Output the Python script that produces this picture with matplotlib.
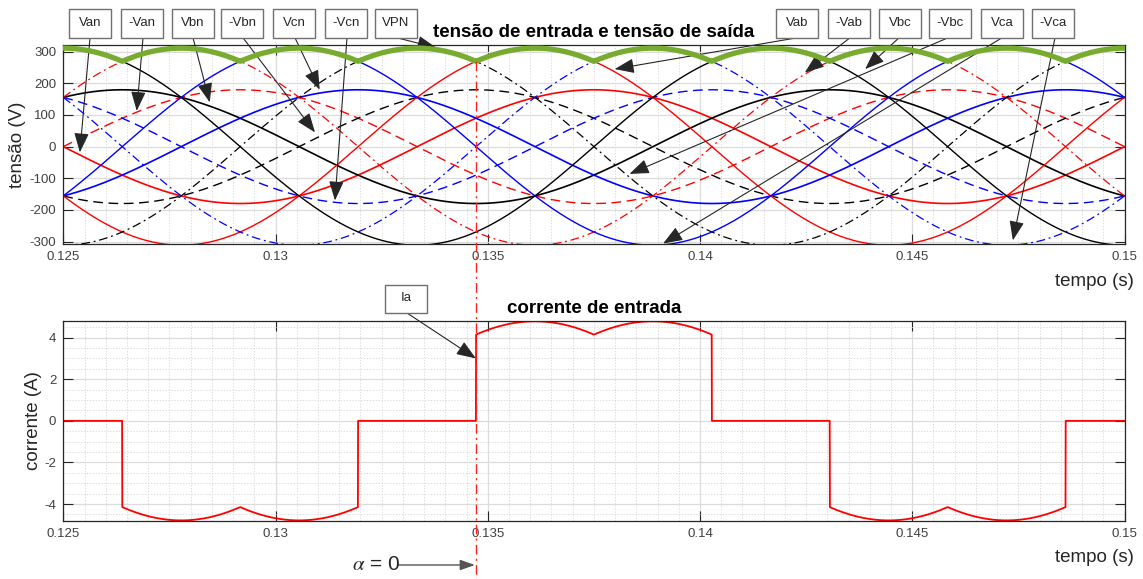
import numpy as np
import matplotlib
matplotlib.use("Agg")
import matplotlib.pyplot as plt
from matplotlib.patches import Rectangle, FancyArrowPatch
from matplotlib.lines import Line2D
from matplotlib.ticker import MultipleLocator

plt.rcParams['font.family'] = ['Liberation Sans', 'DejaVu Sans']
plt.rcParams['axes.unicode_minus'] = False
plt.rcParams['mathtext.fontset'] = 'stix'

# --- dados ---
f_rede = 60.0              # Hz
v_fase_pico = 179.6        # V (pico fase-neutro)
r_carga = 65.0             # ohm
fase_graus = [0.0, -120.0, 120.0]   # a, b, c
alpha_t = 0.13472          # instante de alpha = 0 (s)
t_ini, t_fim = 0.125, 0.15

xticks = [0.125, 0.13, 0.135, 0.14, 0.145, 0.15]
xtick_labels = ['0.125', '0.13', '0.135', '0.14', '0.145', '0.15']
yticks_v = [-300, -200, -100, 0, 100, 200, 300]
yticks_i = [-4, -2, 0, 2, 4]

# rotulos e pontas das setas (t, V)
rotulos = ['Van', '-Van', 'Vbn', '-Vbn', 'Vcn', '-Vcn', 'VPN',
           'Vab', '-Vab', 'Vbc', '-Vbc', 'Vca', '-Vca']
alvo_t = [0.12539, 0.12673, 0.12845, 0.13093, 0.13104, 0.1314, 0.13379,
          0.13799, 0.14247, 0.14389, 0.13834, 0.13913, 0.14737]
alvo_v = [-18, 113, 140, 45, 180, -170, 312,
          245, 234, 245, -86, -306, -296]
ia_alvo = (0.13472, 3.0)

# --- formas de onda ---
t = np.linspace(t_ini, t_fim, 5001)
w = 2 * np.pi * f_rede
va, vb, vc = [v_fase_pico * np.sin(w * t + np.deg2rad(p)) for p in fase_graus]
vab, vbc, vca = va - vb, vb - vc, vc - va
vmax = np.maximum(np.maximum(va, vb), vc)
vmin = np.minimum(np.minimum(va, vb), vc)
vpn = vmax - vmin
ia = np.where(va >= vmax, vpn / r_carga, np.where(va <= vmin, -vpn / r_carga, 0.0))

# estilos
R, B, K = '#ff0000', '#0000ff', '#000000'
dash = (0, (7, 4))
dashdot = (0, (7, 3, 1.5, 3))
curvas = [
    (va, R, '-', 1.2), (-va, R, dash, 1.0),
    (vb, K, '-', 1.2), (-vb, K, dash, 1.0),
    (vc, B, '-', 1.2), (-vc, B, dash, 1.0),
    (vab, R, '-', 1.0), (-vab, R, dashdot, 0.9),
    (vbc, K, '-', 1.0), (-vbc, K, dashdot, 0.9),
    (vca, B, '-', 1.0), (-vca, B, dashdot, 0.9),
]

W, H = 1143, 579
fig = plt.figure(figsize=(W / 100, H / 100), dpi=100)
ax1 = fig.add_axes([63.3 / W, (H - 244.5) / H, (1124.5 - 63.3) / W, 199.5 / H])
ax2 = fig.add_axes([63.3 / W, (H - 520.7) / H, (1124.5 - 63.3) / W, 199.7 / H])

for y, c, ls, lw in curvas:
    ax1.plot(t, y, color=c, ls=ls, lw=lw)
ax1.plot(t, vpn, color='#77ac30', lw=3.8, zorder=5)
ax2.plot(t, ia, color=R, lw=1.3)

for ax in (ax1, ax2):
    ax.set_xlim(t_ini, t_fim)
    ax.set_xticks(xticks)
    ax.set_xticklabels(xtick_labels)
    ax.xaxis.set_minor_locator(MultipleLocator(0.0005))
    ax.tick_params(which='major', direction='in', length=7, width=0.8,
                   top=True, right=True, color='#262626', labelcolor='#404040',
                   labelsize=9.5, pad=5)
    ax.tick_params(which='minor', length=0)
    ax.grid(which='major', color='#dcdcdc', lw=0.9, ls='-')
    ax.xaxis.grid(True, which='minor', color='#d4d4d4', lw=0.6, ls=(0, (1.5, 2)))
    ax.set_axisbelow(True)
    for s in ax.spines.values():
        s.set_color('#262626')
        s.set_linewidth(0.9)

ax1.set_ylim(-309, 321)
ax1.set_yticks(yticks_v)
ax2.set_ylim(-4.8, 4.8)
ax2.set_yticks(yticks_i)
ax2.yaxis.set_minor_locator(MultipleLocator(0.5))
ax2.yaxis.grid(True, which='minor', color='#d4d4d4', lw=0.6, ls=(0, (1.5, 2)))

ax1.set_title('tensão de entrada e tensão de saída', fontsize=13.5,
              fontweight='bold', pad=6)
ax2.set_title('corrente de entrada', fontsize=13.5, fontweight='bold', pad=6)

fig.text(17 / W, 1 - 145 / H, 'tensão (V)', rotation=90, fontsize=13.5,
         ha='center', va='center', color='#262626')
fig.text(34 / W, 1 - 421 / H, 'corrente (A)', rotation=90, fontsize=13.5,
         ha='center', va='center', color='#262626')
fig.text(1134 / W, 1 - 281 / H, 'tempo (s)', fontsize=13.5, ha='right',
         va='center', color='#262626')
fig.text(1134 / W, 1 - 557 / H, 'tempo (s)', fontsize=13.5, ha='right',
         va='center', color='#262626')


def caixa(cx, top, txt, w=42, h=28.5):
    fig.add_artist(Rectangle(((cx - w / 2) / W, 1 - (top + h) / H), w / W, h / H,
                             transform=fig.transFigure, facecolor='white',
                             edgecolor='#707070', lw=1.0))
    fig.text(cx / W, 1 - (top + h / 2 - 1) / H, txt, fontsize=9.5, ha='center',
             va='center', color='#262626')


def seta(ax, xy, start_px, cor='#262626'):
    ax.annotate('', xy=xy, xycoords='data',
                xytext=(start_px[0], H - start_px[1]), textcoords='figure pixels',
                arrowprops=dict(arrowstyle='-|>,head_length=1.0,head_width=0.38',
                                color=cor, lw=0.8, shrinkA=0, shrinkB=0,
                                mutation_scale=12, facecolor='k'),
                annotation_clip=False)


caixa_cx = [90, 142, 193, 242, 294, 346, 396, 797, 849, 900, 950, 1002, 1053]
seta_x0 = [90, 143, 193, 243, 295, 347, 397, 797, 850, 899, 948, 1002, 1055]
for lab, cx, x0, tt, vv in zip(rotulos, caixa_cx, seta_x0, alvo_t, alvo_v):
    seta(ax1, (tt, vv), (x0, 37.8))
for lab, cx in zip(rotulos, caixa_cx):
    caixa(cx, 9.3, lab)

# caixa Ia
seta(ax2, ia_alvo, (407, 313))
caixa(406, 284.5, 'Ia')

# linha vertical de alpha
fig.canvas.draw()
xa = ax1.transData.transform((alpha_t, 0))[0]
vpn_alpha = np.interp(alpha_t, t, vpn)
ya = ax1.transData.transform((alpha_t, vpn_alpha))[1]
fig.add_artist(Line2D([xa / W, xa / W], [ya / H, 0], transform=fig.transFigure,
                      color='#ff2020', lw=1.0, ls=dashdot, zorder=10))

# alpha = 0
fig.text(352 / W, 1 - 565 / H, r'$\alpha$ = 0', fontsize=15, ha='left',
         va='center', color='#262626')
fig.add_artist(FancyArrowPatch(
    (398, H - 565), (xa - 1, H - 565), transform=None,
    arrowstyle='-|>,head_length=0.9,head_width=0.32', mutation_scale=10,
    color='#555555', lw=1.0, shrinkA=0, shrinkB=0, facecolor='k'))

fig.savefig('out.png', dpi=100)
